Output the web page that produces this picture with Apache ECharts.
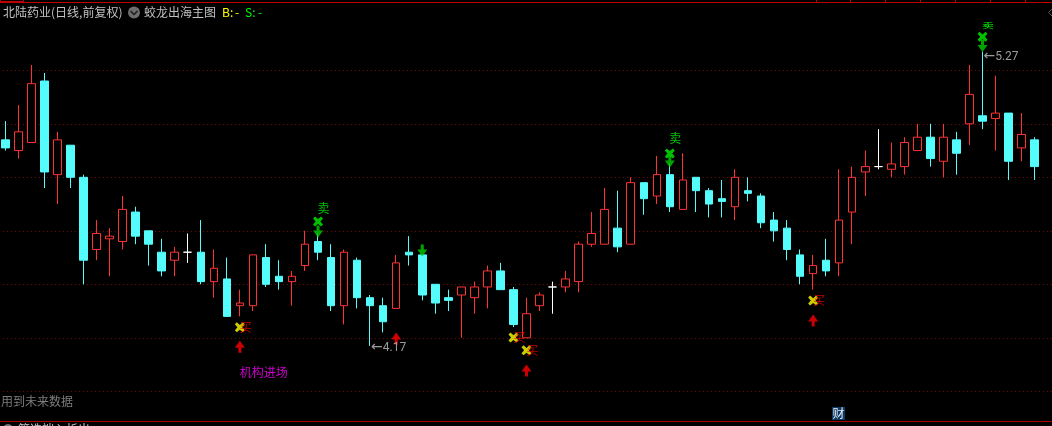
<!DOCTYPE html>
<html><head><meta charset="utf-8">
<style>html,body{margin:0;padding:0;background:#000;overflow:hidden}#c{width:1052px;height:426px}</style>
<script src="https://cdn.jsdelivr.net/npm/echarts@6/dist/echarts.min.js"></script>
</head><body><div id="c"></div>
<script>
const opens=[4.94,4.90,4.93,5.16,4.81,4.92,4.80,4.53,4.57,4.56,4.67,4.60,4.52,4.49,4.52,4.52,4.41,4.42,4.32,4.32,4.50,4.43,4.41,4.47,4.56,4.50,4.32,4.49,4.35,4.32,4.31,4.52,4.51,4.40,4.35,4.36,4.35,4.39,4.45,4.38,4.20,4.32,4.39,4.39,4.41,4.55,4.55,4.61,4.55,4.78,4.73,4.81,4.68,4.80,4.75,4.72,4.69,4.75,4.73,4.64,4.61,4.51,4.44,4.49,4.48,4.67,4.82,4.84,4.83,4.84,4.90,4.95,4.86,4.94,5.00,5.03,5.02,5.04,4.91,4.94];
const closes=[4.91,4.97,5.15,4.82,4.94,4.80,4.49,4.59,4.58,4.68,4.58,4.55,4.45,4.52,4.52,4.41,4.46,4.28,4.33,4.51,4.40,4.41,4.43,4.55,4.52,4.32,4.52,4.35,4.32,4.26,4.48,4.51,4.36,4.33,4.34,4.39,4.39,4.45,4.38,4.25,4.29,4.36,4.39,4.42,4.55,4.59,4.68,4.54,4.78,4.72,4.81,4.69,4.79,4.75,4.70,4.71,4.80,4.74,4.63,4.60,4.53,4.43,4.47,4.45,4.64,4.80,4.84,4.84,4.85,4.93,4.95,4.87,4.95,4.89,5.11,5.01,5.04,4.86,4.96,4.84];
const lows=[4.90,4.87,4.93,4.76,4.70,4.76,4.40,4.49,4.43,4.53,4.55,4.47,4.43,4.43,4.48,4.40,4.35,4.28,4.28,4.30,4.39,4.38,4.32,4.45,4.49,4.30,4.25,4.31,4.17,4.22,4.31,4.47,4.34,4.29,4.30,4.20,4.29,4.31,4.38,4.24,4.20,4.30,4.29,4.37,4.37,4.54,4.55,4.52,4.55,4.66,4.70,4.67,4.68,4.67,4.65,4.65,4.64,4.71,4.61,4.56,4.49,4.40,4.38,4.43,4.43,4.55,4.73,4.83,4.80,4.81,4.90,4.84,4.80,4.81,4.92,4.98,4.90,4.79,4.86,4.79];
const highs=[5.01,5.07,5.22,5.19,4.97,4.92,4.81,4.64,4.61,4.73,4.69,4.60,4.57,4.54,4.59,4.64,4.53,4.50,4.38,4.51,4.55,4.49,4.45,4.60,4.59,4.55,4.53,4.50,4.36,4.35,4.51,4.58,4.51,4.40,4.38,4.39,4.41,4.47,4.48,4.39,4.35,4.37,4.41,4.45,4.56,4.67,4.76,4.75,4.80,4.78,4.88,4.85,4.89,4.80,4.76,4.79,4.83,4.80,4.74,4.67,4.64,4.53,4.51,4.57,4.83,4.84,4.90,4.98,4.93,4.95,5.00,5.00,5.00,4.97,5.22,5.27,5.18,5.04,5.04,4.95];
const yellowCross=[[18,4.239],[39,4.201],[40,4.153],[62,4.339]];
const greenCross=[[24,4.635],[51,4.889],[75,5.325]];
const upArrows=[[18,4.167],[30,4.197],[40,4.078],[62,4.265]];
const downArrows=[[24,4.597],[32,4.526],[51,4.859],[75,5.291]];
const buyText=[[18,4.239],[39,4.201],[40,4.153],[62,4.339]];
const sellText=[[24,4.685],[51,4.945]];
const squashedSellText=[[75,5.367]];
const lowLabel=[[28,4.17]];
const highLabel=[[75,5.27]];
const entryLabel=[[18,4.07]];
const categories=opens.map((_,i)=>String(i)).concat(['']);

const X='path://M0 2L2 0L5 2.6L8 0L10 2L7.4 5L10 8L8 10L5 7.4L2 10L0 8L2.6 5Z';
const UP='path://M5 0L10 7L6.5 7L6.5 12L3.5 12L3.5 7L0 7Z';
const DOWN='path://M3.5 0L6.5 0L6.5 5L10 5L5 12L0 5L3.5 5Z';
const CJK='"Noto Sans CJK SC"';
const hidden={color:'rgba(0,0,0,0)'};
function marks(data,symbol,size,color){return {type:'scatter',data,symbol,symbolSize:size,itemStyle:{color},z:5,silent:true};}
function labels(data,text,color,fontSize,family,offset,rich){return {type:'scatter',data,symbol:'circle',symbolSize:1,itemStyle:hidden,z:6,silent:true,
  label:{show:true,formatter:text,position:'inside',color,fontSize,fontFamily:family,offset,rich}};}
function head(x,text,fill){return {type:'text',x,y:12,style:{text,fill,font:'12px '+CJK,textVerticalAlign:'middle'}};}
function hline(x1,y1,x2,y2,c){return {type:'line',shape:{x1,y1,x2,y2},style:{stroke:c,lineWidth:1}};}
const RED='#c00000';
const arrowRich={a:{fontFamily:'DejaVu Sans',fontSize:14,color:'#c0c0c0'},b:{fontFamily:'Roboto',fontSize:12,color:'#c0c0c0'}};

const chart=echarts.init(document.getElementById('c'),null,{renderer:'canvas'});
chart.setOption({
  animation:false,backgroundColor:'#000',
  grid:{left:-1.2,top:16.8,height:374.5,width:1055.4,outerBoundsMode:'none',containLabel:false},
  xAxis:{type:'category',data:categories,show:false,boundaryGap:true},
  yAxis:{type:'value',min:4.0,max:5.4,interval:0.2,axisLine:{show:false},axisTick:{show:false},axisLabel:{show:false},
    splitLine:{show:true,showMaxLine:false,showMinLine:true,lineStyle:{color:'#7a1010',width:1,type:[1,3]}}},
  series:[
    {type:'candlestick',barWidth:8,silent:true,z:2,
     data:opens.map((o,i)=>[o,closes[i],lows[i],highs[i]]),
     itemStyle:{color:'#000',color0:'#54fcfc',borderColor:'#ff3232',borderColor0:'#54fcfc',borderColorDoji:'#ffffff',borderWidth:1}},
    marks(yellowCross,X,10,'#ffff00'),
    marks(greenCross,X,10,'#00f000'),
    marks(upArrows,UP,[10,12],'#ff0000'),
    marks(downArrows,DOWN,[10,12],'#00d000'),
    labels(buyText,'买','#f00000',12,CJK,[6,0]),
    labels(sellText,'卖','#00f000',12,CJK,[5.5,0]),
    {type:'custom',data:squashedSellText,silent:true,z:6,clip:false,
     renderItem:(params,api)=>{const p=api.coord([api.value(0),api.value(1)]);
       return {type:'text',x:p[0]+5.5,y:p[1],scaleY:0.55,style:{text:'卖',fill:'#00f000',font:'12px '+CJK,align:'center',verticalAlign:'middle'}};}},
    labels(lowLabel,'{a|←}{b|4.17}','#c0c0c0',12,'Roboto',[18.5,2],arrowRich),
    labels(highLabel,'{a|←}{b|5.27}','#c0c0c0',12,'Roboto',[18.5,5],arrowRich),
    labels(entryLabel,'机构进场','#ff00ff',12,CJK,[24,0])
  ],
  graphic:[
    hline(0,2.5,1052,2.5,RED),hline(0,1.5,23,1.5,RED),hline(0.5,0,0.5,2,RED),hline(23.5,0,23.5,2,RED),
    hline(816.5,0,816.5,2,RED),hline(850.5,0,850.5,2,RED),hline(885.5,0,885.5,2,RED),hline(920.5,0,920.5,2,RED),hline(955.5,0,955.5,2,RED),hline(990.5,0,990.5,2,RED),hline(1025.5,0,1025.5,2,RED),
    hline(0,421.5,1052,421.5,'#a80000'),
    head(3,'北陆药业(日线,前复权)','#c0c0c0'),
    {type:'circle',shape:{cx:134,cy:12.5,r:6},style:{fill:'#6e6e6e'}},
    {type:'polyline',shape:{points:[[130.5,11],[134,14.5],[137.5,11]]},style:{stroke:'#1c1c1c',fill:null,lineWidth:1.5}},
    head(144,'蛟龙出海主图','#c0c0c0'),
    head(222,'B:','#ffff00'),head(235,'-','#ffff00'),
    head(245,'S:','#00ff00'),head(258,'-','#00ff00'),
    {type:'polyline',shape:{points:[[1052,9],[1048.5,12.5],[1052,16]]},style:{stroke:'#555',fill:null,lineWidth:1}},
    {type:'text',x:1,y:401,style:{text:'用到未来数据',fill:'#7c7c7c',font:'12px '+CJK,textVerticalAlign:'middle'}},
    {type:'rect',shape:{x:832,y:407,width:13,height:13},style:{fill:'#0c3a68'}},
    {type:'text',x:832.5,y:413.5,style:{text:'财',fill:'#f0f0f0',font:'12px '+CJK,textVerticalAlign:'middle'}},
    {type:'circle',shape:{cx:8,cy:429,r:5},style:{fill:'#6e6e6e'}},
    {type:'text',x:18,y:429,style:{text:'筛选端入析出',fill:'#c0c0c0',font:'12px '+CJK,textVerticalAlign:'middle'}}
  ]
});
</script></body></html>
